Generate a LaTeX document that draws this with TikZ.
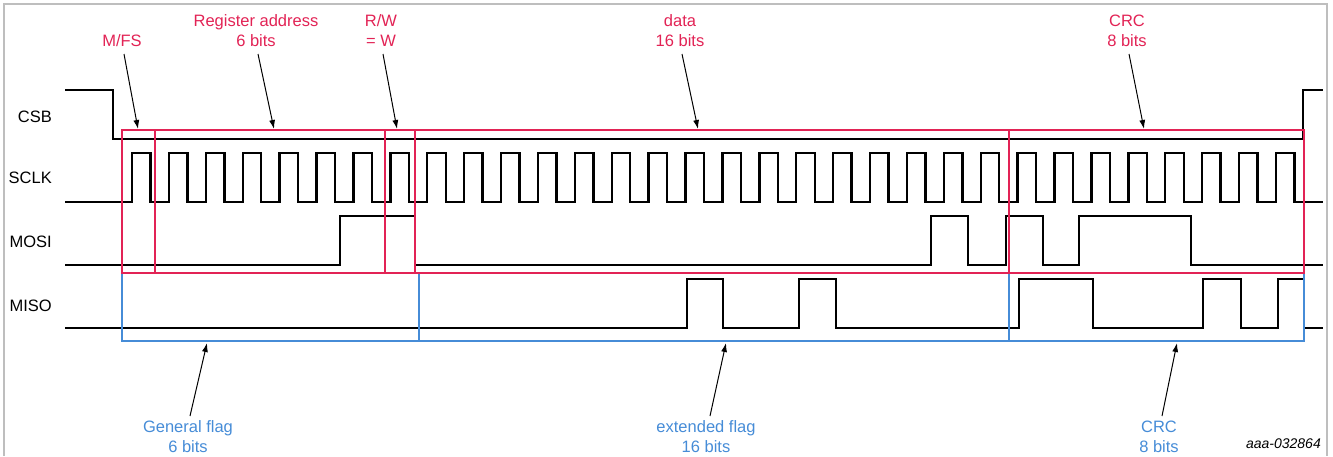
\documentclass[tikz,border=0pt]{standalone}
\usepackage{fontspec}
\setmainfont{Liberation Sans}
\usetikzlibrary{arrows.meta}
\definecolor{nxpred}{RGB}{226,35,85}
\definecolor{nxpblue}{RGB}{70,140,215}
\definecolor{framegray}{RGB}{190,190,190}
\tikzset{
  wave/.style={line width=2.4pt, line join=miter, line cap=butt},
  redbox/.style={draw=nxpred, line width=1.5pt},
  bluebox/.style={draw=nxpblue, line width=1.2pt},
  sig/.style={anchor=base east, inner sep=0pt, font=\fontsize{16.5}{20}\selectfont},
  redlbl/.style={anchor=base, inner sep=0pt, text=nxpred, font=\fontsize{16.5}{20}\selectfont},
  bluelbl/.style={anchor=base, inner sep=0pt, text=nxpblue, font=\fontsize{16.5}{20}\selectfont},
  pointer/.style={draw=black, line width=1pt, -{Latex[length=9pt,width=6pt]}},
}
\begin{document}
\begin{tikzpicture}[x=1pt,y=-1pt]
\useasboundingbox (0,0) rectangle (1333,456);
% frame
\draw[framegray, line width=1.5pt] (4,456) -- (4,4) -- (1327,4) -- (1327,456);

% signal names
\node[sig] (csb)  at (52,122) {CSB};
\node[sig] (sclk) at (52,183) {SCLK};
\node[sig] (mosi) at (52,247) {MOSI};
\node[sig] (miso) at (52,311) {MISO};

% CSB
\draw[wave] (65,90) -- (113,90) -- (113,139) -- (1303,139) -- (1303,90) -- (1323,90);
% SCLK
\draw[wave] (65,202) foreach \k in {0,...,31}{ -- ({132+36.9*\k},202) -- ++(0,-49) -- ++(18.5,0) -- ++(0,49) } -- (1323,202);
% MOSI
\draw[wave] (65,265) -- (340,265) -- (340,216) -- (415,216) -- (415,265)
  -- (931,265) -- (931,216) -- (968,216) -- (968,265)
  -- (1006,265) -- (1006,216) -- (1043,216) -- (1043,265)
  -- (1079,265) -- (1079,216) -- (1191,216) -- (1191,265) -- (1323,265);
% MISO
\draw[wave] (65,328) -- (687,328) -- (687,279) -- (723,279) -- (723,328)
  -- (799,328) -- (799,279) -- (836,279) -- (836,328)
  -- (1019,328) -- (1019,279) -- (1093,279) -- (1093,328)
  -- (1203,328) -- (1203,279) -- (1241,279) -- (1241,328)
  -- (1278,328) -- (1278,279) -- (1304,279) -- (1304,328) -- (1323,328);

% blue fields (MISO)
\draw[bluebox] (122,273) rectangle (1304,341);
\draw[bluebox] (419,273) -- (419,341);
\draw[bluebox] (1009,273) -- (1009,341);

% red fields (MOSI)
\draw[redbox] (122,130) rectangle (1304,273);
\draw[redbox] (155,130) -- (155,273);
\draw[redbox] (385,130) -- (385,273);
\draw[redbox] (415,130) -- (415,273);
\draw[redbox] (1009,130) -- (1009,273);

% red labels
\node[redlbl] (mfs)  at (122,46) {M/FS};
\node[redlbl] (rega) at (256,26.5) {Register address};
\node[redlbl] (regb) at (256,46) {6 bits};
\node[redlbl] (rwa)  at (381,26.5) {R/W};
\node[redlbl] (rwb)  at (381,46) {= W};
\node[redlbl] (data) at (680,26.5) {data};
\node[redlbl] (datb) at (680,46) {16 bits};
\node[redlbl] (crca) at (1127,26.5) {CRC};
\node[redlbl] (crcb) at (1127,46) {8 bits};

% blue labels
\node[bluelbl] (gfa) at (188,432) {General flag};
\node[bluelbl] (gfb) at (188,452) {6 bits};
\node[bluelbl] (efa) at (706,432) {extended flag};
\node[bluelbl] (efb) at (706,452) {16 bits};
\node[bluelbl] (bca) at (1159,432) {CRC};
\node[bluelbl] (bcb) at (1159,452) {8 bits};

% figure id
\node[anchor=base east, inner sep=0pt, font=\fontsize{14}{16}\selectfont\itshape] (fid) at (1321,448) {aaa-032864};

% pointer coordinates
\coordinate (t1) at (124,54);   \coordinate (h1) at (138,129);
\coordinate (t2) at (258,54);   \coordinate (h2) at (274,129);
\coordinate (t3) at (383,54);   \coordinate (h3) at (397,129);
\coordinate (t4) at (682,54);   \coordinate (h4) at (698,129);
\coordinate (t5) at (1129,54);  \coordinate (h5) at (1144,129);
\coordinate (b1) at (190,416);  \coordinate (g1) at (207,343);
\coordinate (b2) at (710,416);  \coordinate (g2) at (726,343);
\coordinate (b3) at (1162,416); \coordinate (g3) at (1177,343);

\draw[pointer] (t1) -- (h1);
\draw[pointer] (t2) -- (h2);
\draw[pointer] (t3) -- (h3);
\draw[pointer] (t4) -- (h4);
\draw[pointer] (t5) -- (h5);
\draw[pointer] (b1) -- (g1);
\draw[pointer] (b2) -- (g2);
\draw[pointer] (b3) -- (g3);
\end{tikzpicture}
\end{document}
